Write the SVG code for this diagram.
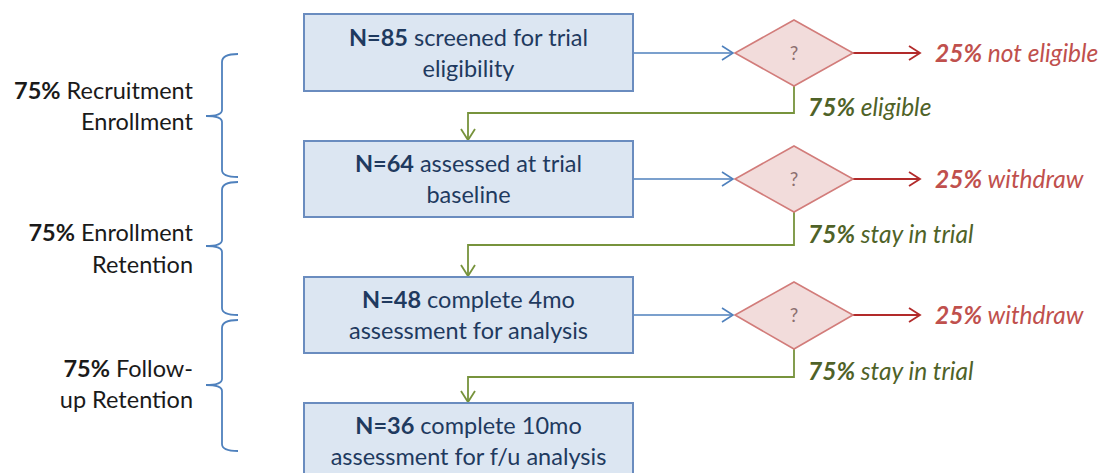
<svg xmlns="http://www.w3.org/2000/svg" width="1104" height="473" viewBox="0 0 1104 473">
<defs>
<style>
.box{fill:#dce6f2;stroke:#6a8cbf;stroke-width:2}
.dia{fill:#f2dcdb;stroke:#d27c7a;stroke-width:1.6}
.bt{font-family:"Lato","Liberation Sans",sans-serif;font-size:23.5px;fill:#1f3a5f;text-anchor:middle}
.lt{font-family:"Lato","Liberation Sans",sans-serif;font-size:23.5px;fill:#1a1a1a;text-anchor:end}
.q{font-family:"Lato","Liberation Sans",sans-serif;font-size:19px;fill:#8c6f6f;text-anchor:middle}
.rt{font-family:"Lato","Liberation Sans",sans-serif;font-size:24.5px;font-style:italic;fill:#c0504d}
.gt{font-family:"Lato","Liberation Sans",sans-serif;font-size:24.5px;font-style:italic;fill:#4f6228}
.b{font-weight:bold}
.blue{stroke:#4f81bd;stroke-width:1.6;fill:none}
.red{stroke:#b22a2a;stroke-width:1.8;fill:none}
.green{stroke:#77933c;stroke-width:1.8;fill:none}
.brace{stroke:#4f81bd;stroke-width:1.8;fill:none}
</style>
<marker id="ab" markerWidth="14" markerHeight="16" refX="12" refY="8" orient="auto" markerUnits="userSpaceOnUse"><path d="M1,1 L12,8 L1,15" fill="none" stroke="#4f81bd" stroke-width="1.6"/></marker>
<marker id="ar" markerWidth="14" markerHeight="16" refX="12" refY="8" orient="auto" markerUnits="userSpaceOnUse"><path d="M1,1 L12,8 L1,15" fill="none" stroke="#b22a2a" stroke-width="1.8"/></marker>
<marker id="ag" markerWidth="14" markerHeight="16" refX="12" refY="8" orient="auto" markerUnits="userSpaceOnUse"><path d="M1,1 L12,8 L1,15" fill="none" stroke="#77933c" stroke-width="1.8"/></marker>
</defs>
<rect width="1104" height="473" fill="#ffffff"/>

<g id="connectors">
<path class="blue" d="M633,53 H733" marker-end="url(#ab)"/>
<path class="blue" d="M633,179 H733" marker-end="url(#ab)"/>
<path class="blue" d="M633,315 H733" marker-end="url(#ab)"/>
<path class="red" d="M853,53 H920" marker-end="url(#ar)"/>
<path class="red" d="M853,179 H920" marker-end="url(#ar)"/>
<path class="red" d="M853,315 H920" marker-end="url(#ar)"/>
<path class="green" d="M794,86 V113 H468 V140" marker-end="url(#ag)"/>
<path class="green" d="M794,212 V245 H468 V276" marker-end="url(#ag)"/>
<path class="green" d="M794,349 V377 H468 V402" marker-end="url(#ag)"/>
</g>

<g id="box1"><rect class="box" x="304" y="14" width="329" height="77"/>
<text class="bt" x="468.5" y="46"><tspan class="b">N=85</tspan> screened for trial</text>
<text class="bt" x="468.5" y="77">eligibility</text></g>
<g id="box2"><rect class="box" x="304" y="141" width="329" height="76"/>
<text class="bt" x="468.5" y="172"><tspan class="b">N=64</tspan> assessed at trial</text>
<text class="bt" x="468.5" y="203">baseline</text></g>
<g id="box3"><rect class="box" x="304" y="277" width="329" height="76"/>
<text class="bt" x="468.5" y="308"><tspan class="b">N=48</tspan> complete 4mo</text>
<text class="bt" x="468.5" y="339">assessment for analysis</text></g>
<g id="box4"><rect class="box" x="304" y="403" width="329" height="78"/>
<text class="bt" x="468.5" y="434"><tspan class="b">N=36</tspan> complete 10mo</text>
<text class="bt" x="468.5" y="465">assessment for f/u analysis</text></g>

<g id="dec1"><path class="dia" d="M794,20 L853,53 L794,86 L735,53 Z"/><text class="q" x="794" y="60">?</text></g>
<g id="dec2"><path class="dia" d="M794,146 L853,179 L794,212 L735,179 Z"/><text class="q" x="794" y="186">?</text></g>
<g id="dec3"><path class="dia" d="M794,282 L853,315 L794,349 L735,315 Z"/><text class="q" x="794" y="322">?</text></g>

<g id="out1"><text class="rt" x="935" y="62"><tspan class="b">25%</tspan> not eligible</text></g>
<g id="out2"><text class="rt" x="935" y="188"><tspan class="b">25%</tspan> withdraw</text></g>
<g id="out3"><text class="rt" x="935" y="324"><tspan class="b">25%</tspan> withdraw</text></g>
<g id="pass1"><text class="gt" x="808" y="116"><tspan class="b">75%</tspan> eligible</text></g>
<g id="pass2"><text class="gt" x="808" y="243"><tspan class="b">75%</tspan> stay in trial</text></g>
<g id="pass3"><text class="gt" x="808" y="380"><tspan class="b">75%</tspan> stay in trial</text></g>

<g id="brace1"><path class="brace" d="M238,54 Q222,54 222,62 V110 Q222,116 206,116 Q222,116 222,122 V170 Q222,177 238,177"/>
<text class="lt" x="193" y="99"><tspan class="b">75%</tspan> Recruitment</text>
<text class="lt" x="193" y="130">Enrollment</text></g>
<g id="brace2"><path class="brace" d="M238,182 Q222,182 222,190 V240 Q222,246 206,246 Q222,246 222,252 V308 Q222,315 238,315"/>
<text class="lt" x="193" y="241"><tspan class="b">75%</tspan> Enrollment</text>
<text class="lt" x="193" y="273">Retention</text></g>
<g id="brace3"><path class="brace" d="M238,320 Q222,320 222,328 V379 Q222,385 206,385 Q222,385 222,391 V444 Q222,451 238,451"/>
<text class="lt" x="193" y="377"><tspan class="b">75%</tspan> Follow-</text>
<text class="lt" x="193" y="408">up Retention</text></g>
</svg>
